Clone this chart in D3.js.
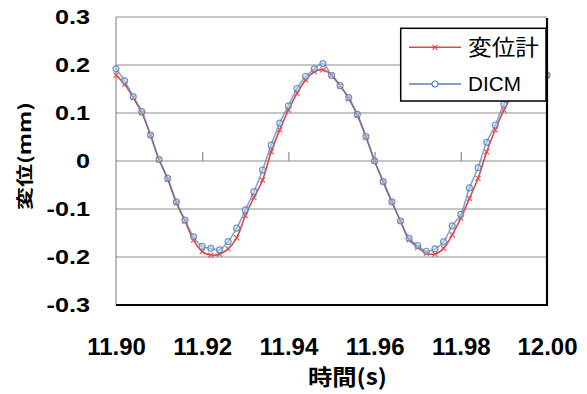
<!DOCTYPE html>
<html>
<head>
<meta charset="utf-8">
<script src="https://cdn.jsdelivr.net/npm/d3@7"></script>
<style>
  html, body { margin: 0; padding: 0; background: #fff; }
  svg { display: block; }
  .tick-label { font-family: "Liberation Sans", Arial, sans-serif; font-weight: bold; fill: #000; }
  .title { font-family: "Noto Sans CJK JP", sans-serif; font-weight: bold; fill: #000; }
  .legend-text { fill: #000; }
</style>
</head>
<body>
<div id="chart"></div>
<script>
// time (s), sampled every 0.002 s
const times = [
  11.900, 11.902, 11.904, 11.906, 11.908, 11.910, 11.912, 11.914, 11.916, 11.918,
  11.920, 11.922, 11.924, 11.926, 11.928, 11.930, 11.932, 11.934, 11.936, 11.938,
  11.940, 11.942, 11.944, 11.946, 11.948, 11.950, 11.952, 11.954, 11.956, 11.958,
  11.960, 11.962, 11.964, 11.966, 11.968, 11.970, 11.972, 11.974, 11.976, 11.978,
  11.980, 11.982, 11.984, 11.986, 11.988, 11.990, 11.992, 11.994, 11.996, 11.998,
  12.000
];

// 変位計 (displacement gauge), mm
const gauge = [
  0.179, 0.160, 0.132, 0.100, 0.054, 0.003, -0.038, -0.087, -0.125, -0.165,
  -0.189, -0.196, -0.194, -0.183, -0.160, -0.114, -0.076, -0.040, 0.019, 0.065,
  0.106, 0.141, 0.169, 0.186, 0.190, 0.179, 0.157, 0.130, 0.095, 0.050,
  0.000, -0.043, -0.085, -0.125, -0.164, -0.180, -0.192, -0.194, -0.182, -0.154,
  -0.119, -0.078, -0.036, 0.019, 0.065, 0.106, 0.138, 0.160, 0.176, 0.183,
  0.178
];

// DICM, mm
const dicm = [
  0.192, 0.167, 0.134, 0.103, 0.054, 0.003, -0.036, -0.085, -0.123, -0.158,
  -0.178, -0.182, -0.185, -0.168, -0.140, -0.102, -0.064, -0.019, 0.033, 0.079,
  0.115, 0.151, 0.176, 0.192, 0.203, 0.178, 0.157, 0.132, 0.097, 0.051,
  0.000, -0.043, -0.085, -0.125, -0.161, -0.176, -0.188, -0.183, -0.168, -0.135,
  -0.111, -0.056, -0.014, 0.039, 0.075, 0.118, 0.148, 0.170, 0.185, 0.190,
  0.179
];

const yTicks = [-0.3, -0.2, -0.1, 0, 0.1, 0.2, 0.3];
const xTicks = [11.90, 11.92, 11.94, 11.96, 11.98, 12.00];
const seriesNames = ["変位計", "DICM"];

const COLOR = { gauge: "#e04848", dicm: "#4f81bd", grid: "#8c8c8c" };

const margin = { top: 17, right: 40, bottom: 89, left: 116 };
const W = 587, H = 394;
const width = W - margin.left - margin.right;   // 431
const height = H - margin.top - margin.bottom;  // 288

const svg = d3.select("#chart").append("svg")
  .attr("width", W).attr("height", H);

const g = svg.append("g").attr("transform", `translate(${margin.left},${margin.top})`);

const x = d3.scaleLinear().domain([11.90, 12.00]).range([0, width]);
const y = d3.scaleLinear().domain([-0.3, 0.3]).range([height, 0]);

// horizontal gridlines
g.append("g").selectAll("line")
  .data(yTicks.filter(d => d !== -0.3))
  .join("line")
    .attr("x1", 0).attr("x2", width)
    .attr("y1", d => y(d)).attr("y2", d => y(d))
    .attr("stroke", COLOR.grid).attr("stroke-width", 1.2);

// left axis line (thin gray)
g.append("line").attr("x1", 0).attr("x2", 0).attr("y1", 0).attr("y2", height)
  .attr("stroke", COLOR.grid).attr("stroke-width", 1.2);

// small tick marks along the zero line
g.append("g")
  .attr("transform", `translate(0,${y(0)})`)
  .call(d3.axisBottom(x).tickValues(xTicks.slice(1, -1)).tickSize(-9).tickFormat(""))
  .call(a => a.select(".domain").remove())
  .call(a => a.selectAll("line").attr("stroke", COLOR.grid).attr("stroke-width", 1.2));

// y tick labels
const yAxis = g.append("g")
  .call(d3.axisLeft(y).tickValues(yTicks).tickSize(0).tickPadding(26)
    .tickFormat(d => d === 0 ? "0" : d.toFixed(1)));
yAxis.select(".domain").remove();
yAxis.selectAll("text")
  .attr("class", "tick-label")
  .style("font-size", "21px")
  .attr("x", 0)
  .attr("transform", "translate(-26,0) scale(1.2,1)");

// x tick labels
const xAxis = g.append("g")
  .attr("transform", `translate(0,${height})`)
  .call(d3.axisBottom(x).tickValues(xTicks).tickSize(0).tickPadding(33)
    .tickFormat(d3.format(".2f")));
xAxis.select(".domain").remove();
xAxis.selectAll("text")
  .attr("class", "tick-label")
  .style("font-size", "24px");

// smoothed lines
const line = vals => d3.line()
  .x((d, i) => x(times[i]))
  .y(d => y(d))
  .curve(d3.curveCatmullRom.alpha(0.5))(vals);

g.append("path").attr("d", line(gauge))
  .attr("fill", "none").attr("stroke", COLOR.gauge).attr("stroke-width", 1.6);

// blue drawn semi-transparent so the overlap reads greyish, as in the original
g.append("path").attr("d", line(dicm))
  .attr("fill", "none").attr("stroke", COLOR.dicm).attr("stroke-width", 1.6)
  .attr("stroke-opacity", 0.7);

// markers: x for gauge
const xMark = (sel, s) => sel.attr("d", `M${-s},${-s}L${s},${s}M${-s},${s}L${s},${-s}`);
g.append("g").selectAll("path")
  .data(gauge)
  .join("path")
    .attr("transform", (d, i) => `translate(${x(times[i])},${y(d)})`)
    .call(xMark, 2.5)
    .attr("stroke", COLOR.gauge).attr("stroke-width", 1.1).attr("fill", "none");

// markers: circles for DICM
g.append("g").selectAll("circle")
  .data(dicm)
  .join("circle")
    .attr("cx", (d, i) => x(times[i]))
    .attr("cy", d => y(d))
    .attr("r", 3)
    .attr("fill", "#c6d6ea").attr("fill-opacity", 0.5)
    .attr("stroke", COLOR.dicm).attr("stroke-width", 1.2)
    .attr("stroke-opacity", 0.8);

// bottom axis (thick black) and right border
g.append("line").attr("x1", 0).attr("x2", width + 1).attr("y1", height).attr("y2", height)
  .attr("stroke", "#000").attr("stroke-width", 2.2);
g.append("line").attr("x1", width).attr("x2", width).attr("y1", 1).attr("y2", height)
  .attr("stroke", "#000").attr("stroke-width", 2.2);

// legend
const lg = svg.append("g").attr("transform", "translate(400.7,28.3)");
lg.append("rect").attr("width", 145.3).attr("height", 72.7)
  .attr("fill", "#fff").attr("stroke", "#000").attr("stroke-width", 1.5);

const leg0 = lg.append("g").attr("transform", "translate(0,19)");
leg0.append("line").attr("x1", 8.3).attr("x2", 60.3)
  .attr("stroke", COLOR.gauge).attr("stroke-width", 1.6);
leg0.append("path").attr("transform", "translate(34.3,0)").call(xMark, 2.5)
  .attr("stroke", COLOR.gauge).attr("stroke-width", 1.1).attr("fill", "none");
leg0.append("text").attr("class", "legend-text")
  .attr("x", 67.3).attr("y", 8)
  .attr("textLength", 71).attr("lengthAdjust", "spacingAndGlyphs")
  .style("font-family", '"Noto Sans CJK JP", sans-serif')
  .style("font-size", "22px")
  .text(seriesNames[0]);

const leg1 = lg.append("g").attr("transform", "translate(0,55.7)");
leg1.append("line").attr("x1", 8.3).attr("x2", 60.3)
  .attr("stroke", COLOR.dicm).attr("stroke-width", 1.6);
leg1.append("circle").attr("cx", 34.3).attr("r", 3)
  .attr("fill", "#fff").attr("stroke", COLOR.dicm).attr("stroke-width", 1.2);
leg1.append("text").attr("class", "legend-text")
  .attr("x", 67.3).attr("y", 7.3)
  .attr("textLength", 53).attr("lengthAdjust", "spacingAndGlyphs")
  .style("font-family", '"Liberation Sans", Arial, sans-serif')
  .style("font-size", "21px")
  .text(seriesNames[1]);

// axis titles
svg.append("text").attr("class", "title")
  .attr("transform", "translate(31,156) rotate(-90)")
  .attr("text-anchor", "middle")
  .attr("textLength", 108).attr("lengthAdjust", "spacingAndGlyphs")
  .style("font-size", "17px")
  .text("変位(mm)");

svg.append("text").attr("class", "title")
  .attr("x", 347.5).attr("y", 384.5)
  .attr("text-anchor", "middle")
  .attr("textLength", 79).attr("lengthAdjust", "spacingAndGlyphs")
  .style("font-size", "22px")
  .text("時間(s)");
</script>
</body>
</html>
